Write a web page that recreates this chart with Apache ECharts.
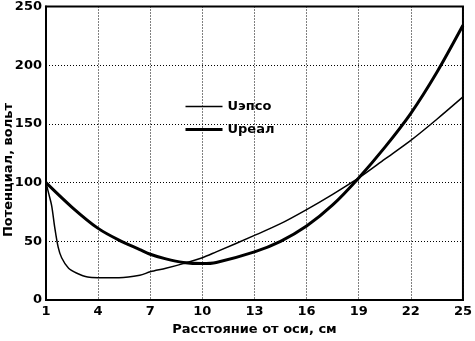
<!DOCTYPE html>
<html>
<head>
<meta charset="utf-8">
<script src="https://cdn.jsdelivr.net/npm/echarts@6/dist/echarts.min.js"></script>
<style>html,body{margin:0;padding:0;background:#fff}#c{width:475px;height:341px}</style>
</head>
<body>
<div id="c"></div>
<script>
// x positions (cm) and values (volts)
var epsoX = [1, 1.15, 1.33, 1.5, 1.7, 1.9, 2.3, 2.75, 3.4, 4, 5.2, 6.4, 7, 7.9, 8.9, 10, 10.8, 13, 14.5, 16, 17.5, 19, 20.5, 22, 23.5, 25];
var epsoY = [100, 91, 80, 62, 45, 36, 27, 23, 19.5, 19, 19, 21, 24, 27, 31, 36, 41, 55, 65, 77, 90, 104, 120, 136, 154, 173];
var realX = [1, 2.5, 4, 5.2, 6.4, 7, 7.9, 8.9, 10, 10.8, 13, 14.5, 16, 17.5, 19, 20.5, 22, 23.5, 25];
var realY = [100, 79, 61, 51, 43, 39, 35, 32, 31, 32, 41, 50, 63, 81, 104, 130, 159, 194, 234];
var seriesNames = ['Uэпсо', 'Uреал'];
var xTitle = 'Расстояние от оси, см';
var yTitle = 'Потенциал, вольт';

function pairs(xs, ys) { return xs.map(function (x, i) { return [x, ys[i]]; }); }

var font = 'DejaVu Sans';
var chart = echarts.init(document.getElementById('c'), null, { renderer: 'canvas' });
chart.setOption({
  animation: false,
  backgroundColor: '#fff',
  grid: { left: 46, right: 9, top: 6, bottom: 41, show: true, borderColor: '#000', borderWidth: 2, backgroundColor: 'transparent' },
  legend: {
    left: 184, top: 100, padding: 0, orient: 'vertical', itemWidth: 37, itemHeight: 12, itemGap: 10,
    itemStyle: { opacity: 0 },
    textStyle: { fontFamily: font, fontWeight: 'bold', fontSize: 13, color: '#000' },
    data: [
      { name: seriesNames[0], lineStyle: { width: 1.5, color: '#000' } },
      { name: seriesNames[1], lineStyle: { width: 3, color: '#000' } }
    ]
  },
  xAxis: {
    type: 'value', min: 1, max: 25, interval: 3,
    name: xTitle, nameLocation: 'middle', nameGap: 21,
    nameTextStyle: { fontFamily: font, fontWeight: 'bold', fontSize: 13, color: '#000' },
    axisLine: { show: true, lineStyle: { color: '#000', width: 2 } },
    axisTick: { show: false },
    axisLabel: { fontFamily: font, fontWeight: 'bold', fontSize: 13, color: '#000', margin: 5 },
    splitLine: { show: true, lineStyle: { color: '#000', width: 1, type: [1, 2] } }
  },
  yAxis: {
    type: 'value', min: 0, max: 250, interval: 50,
    axisLine: { show: true, lineStyle: { color: '#000', width: 2 } },
    axisTick: { show: false },
    axisLabel: { fontFamily: font, fontWeight: 'bold', fontSize: 13, color: '#000', margin: 4 },
    splitLine: { show: true, lineStyle: { color: '#000', width: 1, type: [1, 2] } }
  },
  graphic: [{
    type: 'text', x: 9, y: 170, rotation: Math.PI / 2,
    style: { text: yTitle, fontFamily: font, fontWeight: 'bold', fontSize: 13, fill: '#000', align: 'center', verticalAlign: 'middle' }
  }],
  series: [
    { name: seriesNames[0], type: 'line', data: pairs(epsoX, epsoY), smooth: 0.3, symbol: 'none',
      lineStyle: { color: '#000', width: 1.5 }, itemStyle: { color: '#000' } },
    { name: seriesNames[1], type: 'line', data: pairs(realX, realY), smooth: 0.3, symbol: 'none',
      lineStyle: { color: '#000', width: 3 }, itemStyle: { color: '#000' } }
  ]
});
</script>
</body>
</html>
